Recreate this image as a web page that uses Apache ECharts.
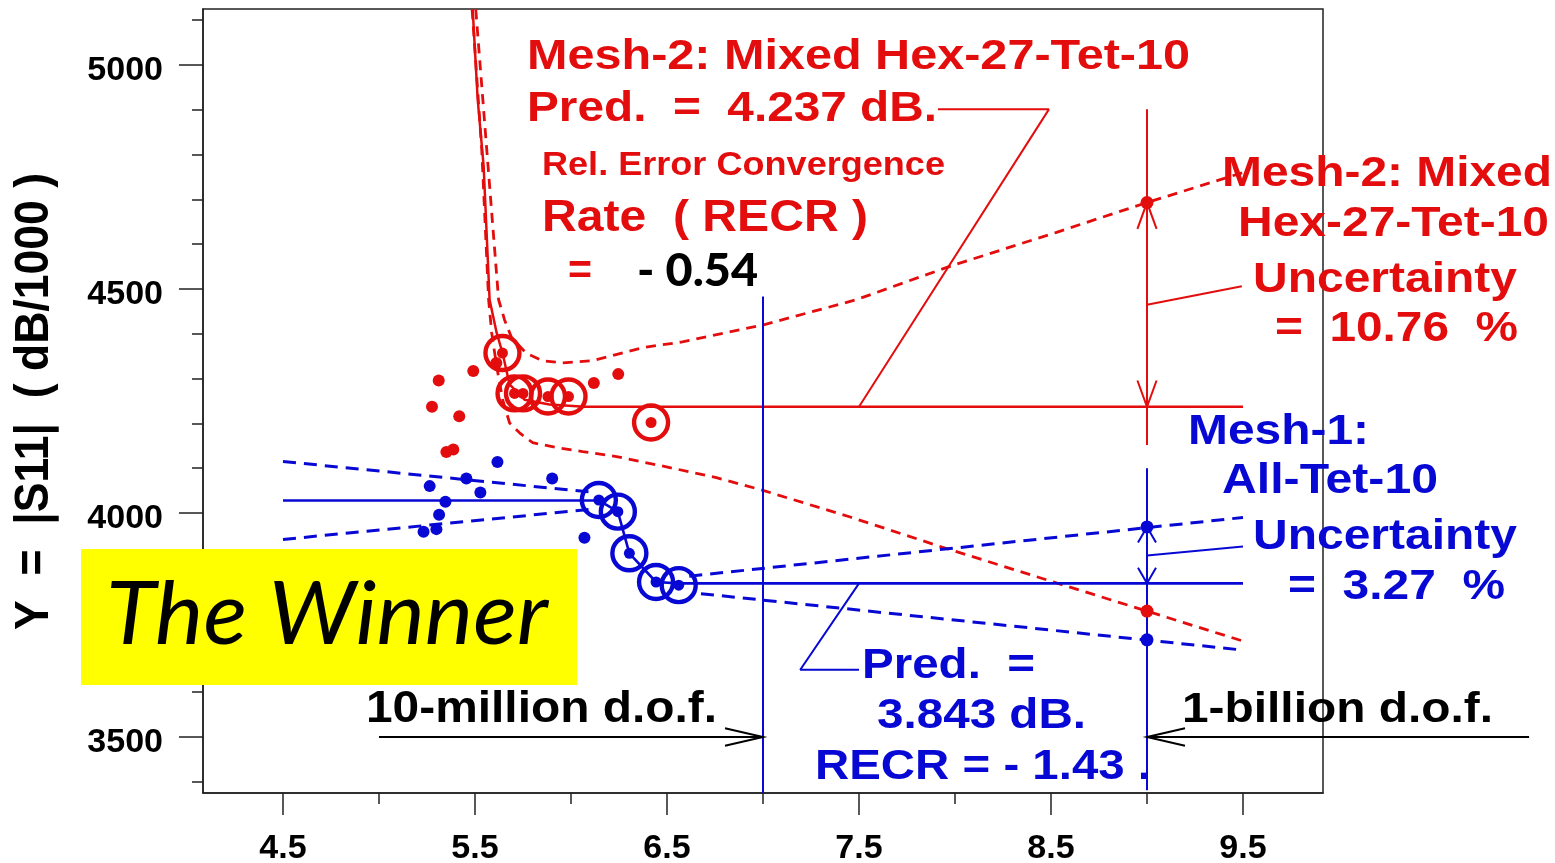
<!DOCTYPE html>
<html><head><meta charset="utf-8">
<script src="https://cdn.jsdelivr.net/npm/echarts@6/dist/echarts.min.js"></script>
<style>html,body{margin:0;padding:0;background:#fff}#c{width:1555px;height:863px}</style>
</head><body><div id="c"></div>
<script>
// ---------- tick / label values ----------
const xTickValues = [4.5, 5, 5.5, 6, 6.5, 7, 7.5, 8, 8.5, 9, 9.5];
const xLabelValues = [4.5, 5.5, 6.5, 7.5, 8.5, 9.5];
const yTickValues = [3400, 3500, 3600, 3700, 3800, 3900, 4000, 4100, 4200, 4300, 4400, 4500, 4600, 4700, 4800, 4900, 5000, 5100];
const yLabelValues = [3500, 4000, 4500, 5000];

// ---------- Mesh-2 (red) ----------
const mesh2Dots = [[5.311,4296],[5.491,4317],[5.276,4237],[5.418,4216],[5.351,4136],[5.387,4142],[6.119,4290],[6.246,4310],[5.611,4335]];
const mesh2Rings = [[5.643,4357],[5.706,4267],[5.750,4267],[5.880,4260],[5.987,4260],[6.417,4202]];
const mesh2Fit = [[5.488,5124],[5.514,4923],[5.545,4774],[5.576,4476],[5.613,4402],[5.644,4356],[5.680,4287],[5.758,4253],[5.888,4242],[6.070,4237],[9.5,4237]];
const mesh2Upper = [[5.504,5124],[5.561,4812],[5.623,4476],[5.654,4431],[5.691,4391],[5.769,4356],[5.852,4340],[5.956,4335],[6.112,4340],[6.372,4369],[6.580,4382],[7.003,4420],[7.485,4476],[7.969,4550],[8.525,4626],[9.0,4693],[9.5,4760]];
const mesh2Lower = [[5.485,5124],[5.535,4812],[5.571,4476],[5.587,4402],[5.613,4327],[5.644,4253],[5.680,4201],[5.732,4179],[5.800,4157],[5.925,4146],[6.060,4137],[6.237,4126],[6.497,4103],[6.757,4079],[6.996,4051],[7.454,3991],[7.932,3924],[8.528,3844],[9.0,3781],[9.5,3714]];
const mesh2At9 = [[9.0,4693],[9.0,3781]];

// ---------- Mesh-1 (blue) ----------
const mesh1Dots = [[5.264,4060],[5.455,4077],[5.528,4046],[5.346,4025],[5.313,3996],[5.232,3958],[5.299,3964],[5.617,4114],[5.902,4077],[6.070,3945]];
const mesh1Rings = [[6.145,4029],[6.244,4003],[6.304,3910],[6.443,3846],[6.561,3839]];
const mesh1Fit = [[4.5,4028],[6.145,4028],[6.244,4003],[6.304,3910],[6.443,3846],[6.561,3843],[9.5,3843]];
const mesh1UpperLeft = [[4.5,4115],[6.096,4047]];
const mesh1LowerLeft = [[4.5,3941],[6.096,4008]];
const mesh1UpperRight = [[6.616,3859],[9.5,3990]];
const mesh1LowerRight = [[6.677,3820],[9.5,3694]];
const mesh1At9 = [[9.0,3969],[9.0,3717]];

// ---------- reference lines / leaders / arrows ----------
const line7 = [[7.0,4483],[7.0,3375]];
const line9Red = [[9.0,4901],[9.0,4152]];
const line9Blue = [[9.0,4100],[9.0,3381]];
const leaderRedPred = [[7.911,4901],[8.489,4901],[7.5,4237]];
const leaderRedUnc = [[9.0,4465],[9.494,4506]];
const leaderBlueUnc = [[9.0,3905],[9.5,3925]];
const leaderBluePred = [[7.5,3843],[7.194,3650],[7.5,3650]];
const dofArrows = [[5.0,3500,7.0,3500],[10.99,3500,9.0,3500]];
const redUncArrows = [[9.0,4465,9.0,4693],[9.0,4465,9.0,4237]];
const blueUncArrows = [[9.0,3905,9.0,3969],[9.0,3905,9.0,3843]];

const RED = '#e30d0d', BLUE = '#0808d4', BLACK = '#000';

// ---------- text annotations ----------
const annotations = [
  {text:'Mesh-2: Mixed Hex-27-Tet-10', color:RED, left:527, right:1190, cy:57.5, cap:30.5},
  {text:'Pred.  =  4.237 dB.', color:RED, left:527, right:937, cy:109, cap:31},
  {text:'Rel. Error Convergence', color:RED, left:542, right:945, cy:166, cap:24},
  {text:'Rate  ( RECR )', color:RED, left:542, right:868, cy:219, cap:32},
  {text:'=', color:RED, left:568, right:592, cy:272, cap:30},
  {text:'- 0.54', color:BLACK, left:637, right:758, cy:272, cap:32, fam:'Lato', weight:'900'},
  {text:'Mesh-2: Mixed', color:RED, left:1222, right:1552, cy:174, cap:31},
  {text:'Hex-27-Tet-10', color:RED, left:1238, right:1549, cy:224, cap:31},
  {text:'Uncertainty', color:RED, left:1253, right:1517, cy:280, cap:31},
  {text:'=  10.76  %', color:RED, left:1275, right:1518, cy:329, cap:31},
  {text:'Mesh-1:', color:BLUE, left:1188, right:1369, cy:432, cap:30},
  {text:'All-Tet-10', color:BLUE, left:1222, right:1438, cy:481, cap:31},
  {text:'Uncertainty', color:BLUE, left:1253, right:1517, cy:537, cap:30},
  {text:'=  3.27  %', color:BLUE, left:1288, right:1505, cy:587, cap:31},
  {text:'Pred.  =', color:BLUE, left:862, right:1035, cy:666, cap:31},
  {text:'3.843 dB.', color:BLUE, left:877, right:1086, cy:716, cap:31},
  {text:'RECR = - 1.43 .', color:BLUE, left:815, right:1151, cy:767, cap:30},
  {text:'10-million d.o.f.', color:BLACK, left:366, right:717, cy:710, cap:32},
  {text:'1-billion d.o.f.', color:BLACK, left:1182, right:1493, cy:710, cap:31}
];
const yTitle = 'Y  =  |S11|  ( dB/1000 )';
const winnerText = 'The Winner';

// ---------- helpers ----------
const mctx = document.createElement('canvas').getContext('2d');
function measure(text, font){ mctx.font = font; return mctx.measureText(text).width; }
const CAP = {'Liberation Sans':0.716, 'Lato':0.7165};

function textEl(a){
  const fam = a.fam || 'Liberation Sans';
  const style = a.italic ? 'italic' : 'normal';
  const weight = a.weight || 'bold';
  const size = a.cap / CAP[fam];
  const font = style + ' ' + weight + ' ' + size.toFixed(2) + 'px "' + fam + '"';
  const w = measure(a.text, font);
  const sx = (a.right - a.left) / w;
  return {type:'text', x:a.left, y:a.cy, scaleX:sx, scaleY:1, z:100, silent:true,
    style:{text:a.text, font:font, fill:a.color, textAlign:'left', textVerticalAlign:'middle', align:'left', verticalAlign:'middle'}};
}

const X_MIN = 4.5 - 5/12, X_MAX = 9.5 + 5/12, Y_MIN = 3375, Y_MAX = 5125;

function lineS(data, color, width, type){
  return {type:'line', data:data, symbol:'none', showSymbol:false, silent:true, animation:false, z:2,
    lineStyle:{color:color, width:width, type:type || 'solid', opacity:1}};
}
function scatterS(data, color, size, ring){
  return {type:'scatter', data:data, symbol:'circle', symbolSize:size, silent:true, animation:false, z:ring?4:5,
    itemStyle: ring ? {color:'rgba(0,0,0,0)', borderColor:color, borderWidth:4.4, opacity:1}
                    : {color:color, opacity:1}};
}
function arrowS(data, color, width, headLen, halfDeg){
  return {type:'custom', data:data, silent:true, animation:false, z:3, clip:false,
    renderItem:function(params, api){
      const p1 = api.coord([api.value(0), api.value(1)]);
      const p2 = api.coord([api.value(2), api.value(3)]);
      const ang = Math.atan2(p2[1]-p1[1], p2[0]-p1[0]);
      const a = halfDeg*Math.PI/180;
      const h1 = [p2[0]-headLen*Math.cos(ang-a), p2[1]-headLen*Math.sin(ang-a)];
      const h2 = [p2[0]-headLen*Math.cos(ang+a), p2[1]-headLen*Math.sin(ang+a)];
      return {type:'group', children:[
        {type:'line', shape:{x1:p1[0],y1:p1[1],x2:p2[0],y2:p2[1]}, style:{stroke:color, lineWidth:width}},
        {type:'polyline', shape:{points:[h1,p2,h2]}, style:{stroke:color, lineWidth:width, fill:null}}
      ]};
    }};
}

const axisFont = {fontSize:34, fontWeight:'bold', fontFamily:'Liberation Sans', color:'#000'};

const chart = echarts.init(document.getElementById('c'), null, {renderer:'canvas'});

const graphics = annotations.map(textEl);
// y-axis title (rotated)
(function(){
  const size = 34 / CAP['Liberation Sans'];
  const font = 'normal bold ' + size.toFixed(2) + 'px "Liberation Sans"';
  const sx = 457 / measure(yTitle, font);
  graphics.push({type:'text', x:35, y:401.5, rotation:Math.PI/2, scaleX:sx, z:100, silent:true,
    style:{text:yTitle, font:font, fill:'#000', textAlign:'center', textVerticalAlign:'middle', align:'center', verticalAlign:'middle'}});
})();
// The Winner box
graphics.push({type:'rect', shape:{x:81, y:549, width:496, height:136}, style:{fill:'#ffff00'}, z:95, silent:true});
graphics.push(textEl({text:winnerText, color:'#000', left:106, right:548, cy:616, cap:63, fam:'Lato', italic:true, weight:'normal'}));

const option = {
  backgroundColor:'#fff',
  animation:false,
  grid:{left:203, right:232, top:9, bottom:70, show:true, borderColor:'#222', borderWidth:1.5,
        backgroundColor:'rgba(0,0,0,0)', containLabel:false, outerBoundsMode:'none'},
  xAxis:[
    {type:'value', min:X_MIN, max:X_MAX, position:'bottom',
     axisLine:{show:true, lineStyle:{color:'#222', width:1.5}},
     axisTick:{show:true, customValues:xLabelValues, length:22, lineStyle:{color:'#222', width:1.5}},
     axisLabel:Object.assign({customValues:xLabelValues, margin:39, formatter:function(v){return String(v);}}, axisFont),
     splitLine:{show:false}},
    {type:'value', min:X_MIN, max:X_MAX, position:'bottom',
     axisLine:{show:false},
     axisTick:{show:true, customValues:xTickValues, length:11, lineStyle:{color:'#222', width:1.5}},
     axisLabel:{show:false}, splitLine:{show:false}}
  ],
  yAxis:[
    {type:'value', min:Y_MIN, max:Y_MAX, position:'left',
     axisLine:{show:true, lineStyle:{color:'#222', width:1.5}},
     axisTick:{show:true, customValues:yLabelValues, length:24, lineStyle:{color:'#222', width:1.5}},
     axisLabel:Object.assign({customValues:yLabelValues, margin:40,
        formatter:function(v){return '{a|' + String(v) + '}';},
        rich:{a:{fontSize:34, fontWeight:'bold', fontFamily:'Liberation Sans', color:'#000', padding:[12,0,0,0]}}}, axisFont),
     splitLine:{show:false}},
    {type:'value', min:Y_MIN, max:Y_MAX, position:'left',
     axisLine:{show:false},
     axisTick:{show:true, customValues:yTickValues, length:11, lineStyle:{color:'#222', width:1.5}},
     axisLabel:{show:false}, splitLine:{show:false}}
  ],
  series:[
    lineS(mesh2Upper, RED, 2.8, [10,7]),
    lineS(mesh2Lower, RED, 2.8, [10,7]),
    lineS(mesh2Fit, RED, 2.5),
    lineS(mesh1UpperLeft, BLUE, 3, [13,8]),
    lineS(mesh1LowerLeft, BLUE, 3, [13,8]),
    lineS(mesh1UpperRight, BLUE, 3, [13,8]),
    lineS(mesh1LowerRight, BLUE, 3, [13,8]),
    lineS(mesh1Fit, BLUE, 2.6),
    lineS(line7, BLUE, 2),
    lineS(line9Red, RED, 2),
    lineS(line9Blue, BLUE, 2),
    lineS(leaderRedPred, RED, 2),
    lineS(leaderRedUnc, RED, 2),
    lineS(leaderBlueUnc, BLUE, 2),
    lineS(leaderBluePred, BLUE, 2),
    arrowS(dofArrows, BLACK, 2, 39, 13),
    arrowS(redUncArrows, RED, 2, 28, 20),
    arrowS(blueUncArrows, BLUE, 2, 18, 30),
    scatterS(mesh2Rings, RED, 34, true),
    scatterS(mesh2Rings, RED, 11, false),
    scatterS(mesh2Dots, RED, 12, false),
    scatterS(mesh2At9, RED, 13, false),
    scatterS(mesh1Rings, BLUE, 34, true),
    scatterS(mesh1Rings, BLUE, 11, false),
    scatterS(mesh1Dots, BLUE, 12, false),
    scatterS(mesh1At9, BLUE, 13, false)
  ],
  graphic:{elements:graphics}
};
chart.setOption(option);
</script>
</body></html>
